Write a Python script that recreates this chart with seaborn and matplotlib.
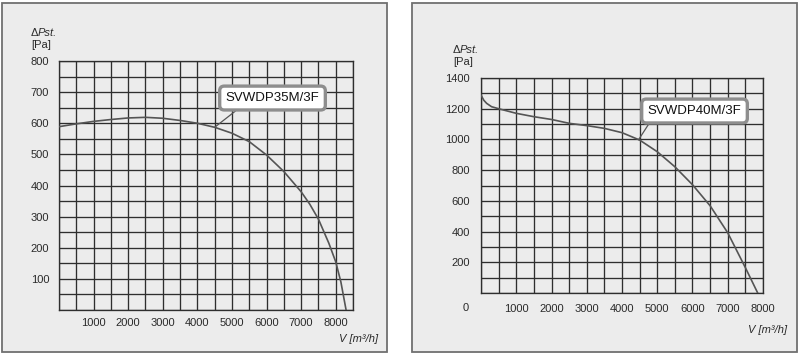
import matplotlib

matplotlib.use("Agg")
import matplotlib.pyplot as plt
import numpy as np
import pandas as pd
import seaborn as sns
from matplotlib.patches import Rectangle

# SVWDP35M/3F curve
flow_35 = [0, 500, 1000, 1500, 2000, 2500, 3000, 3500, 4000, 4500, 5000,
           5500, 6000, 6500, 7000, 7250, 7500, 7800, 8000, 8150, 8300]
press_35 = [589, 598, 606, 612, 617, 619, 616, 609, 600, 587, 568,
            541, 498, 445, 380, 340, 292, 215, 155, 90, 0]

# SVWDP40M/3F curve
flow_40 = [0, 80, 160, 300, 500, 1000, 1500, 2000, 2500, 3000, 3500, 4000,
           4500, 5000, 5500, 6000, 6500, 7000, 7500, 7850]
press_40 = [1289, 1255, 1235, 1213, 1200, 1170, 1148, 1130, 1105, 1090, 1072, 1044,
            996, 920, 822, 705, 568, 392, 165, 0]

names = ["SVWDP35M/3F", "SVWDP40M/3F"]
x_ticks_35 = [1000, 2000, 3000, 4000, 5000, 6000, 7000, 8000]
y_ticks_35 = [100, 200, 300, 400, 500, 600, 700, 800]
x_ticks_40 = [1000, 2000, 3000, 4000, 5000, 6000, 7000, 8000]
y_ticks_40 = [200, 400, 600, 800, 1000, 1200, 1400]

sns.set_theme(style="white")
plt.rcParams["font.family"] = ["Liberation Sans", "DejaVu Sans"]

BG = "#ececec"
GRID = "#2e2e2e"
CURVE = "#555555"
TXT = "#2a2a2a"

fig = plt.figure(figsize=(8, 3.54), dpi=100, facecolor="white")

# panel frames
for x0, x1 in [(2, 387), (412, 797)]:
    fig.patches.append(Rectangle((x0 / 800, 2 / 354), (x1 - x0) / 800, 349 / 354,
                                 transform=fig.transFigure, facecolor=BG,
                                 edgecolor="#707070", linewidth=1.3, zorder=-1))

ax1 = fig.add_axes([59 / 800, 44 / 354, 294 / 800, 249 / 354])
ax2 = fig.add_axes([481 / 800, 61 / 354, 282 / 800, 215 / 354])


def style_axis(ax, xmax, ymax, xstep, ystep, xt, yt, ticklen):
    ax.set_facecolor(BG)
    ax.set_xlim(0, xmax)
    ax.set_ylim(0, ymax)
    ax.set_xticks(xt)
    ax.set_yticks(yt)
    ax.set_xticks(np.arange(0, xmax + 1, xstep), minor=True)
    ax.set_yticks(np.arange(0, ymax + 1, ystep), minor=True)
    ax.grid(True, which="both", color=GRID, linewidth=0.95)
    ax.set_axisbelow(True)
    ax.tick_params(axis="both", which="major", labelsize=8, labelcolor=TXT,
                   length=ticklen, width=0.95, color=GRID, pad=4)
    ax.tick_params(axis="both", which="minor", length=0)
    ax.tick_params(axis="x", which="minor", length=ticklen, width=0.95, color=GRID)
    for sp in ax.spines.values():
        sp.set_color(GRID)
        sp.set_linewidth(0.95)
    ax.set_xlabel("")
    ax.set_ylabel("")


df35 = pd.DataFrame({"flow": flow_35, "press": press_35})
df40 = pd.DataFrame({"flow": flow_40, "press": press_40})

sns.lineplot(data=df35, x="flow", y="press", ax=ax1, color=CURVE, linewidth=1.2,
             sort=False, zorder=3)
sns.lineplot(data=df40, x="flow", y="press", ax=ax2, color=CURVE, linewidth=1.2,
             sort=False, zorder=3)

style_axis(ax1, 8500, 800, 500, 50, x_ticks_35, y_ticks_35, 0)
ax1.tick_params(axis="y", pad=7)
ax1.tick_params(axis="x", pad=6)
style_axis(ax2, 8000, 1400, 500, 100, x_ticks_40, y_ticks_40, 4)
ax2.tick_params(axis="x", pad=4)

box = dict(boxstyle="round,pad=0.45,rounding_size=0.35", fc="white",
           ec="#8e8e8e", lw=2.4)
ax1.annotate(names[0], xy=(4500, 587), xytext=(6173, 681), textcoords="data",
             fontsize=9.5, color="#111111", ha="center", va="center", bbox=box,
             arrowprops=dict(arrowstyle="-", color=CURVE, lw=0.9,
                             relpos=(0.2, 0.0), shrinkA=0, shrinkB=0),
             zorder=5)
ax2.annotate(names[1], xy=(4470, 998), xytext=(6057, 1185), textcoords="data",
             fontsize=9.5, color="#111111", ha="center", va="center", bbox=box,
             arrowprops=dict(arrowstyle="-", color=CURVE, lw=0.9,
                             relpos=(0.06, 0.0), shrinkA=0, shrinkB=0),
             zorder=5)


def px(x, y):
    return x / 800, 1 - y / 354


def delta_label(x, y):
    fig.text(*px(x, y), "Δ", fontsize=8, color=TXT, va="center", ha="left")
    fig.text(*px(x + 7, y), "Pst.", fontsize=8, color=TXT, va="center",
             ha="left", fontstyle="italic")
    fig.text(*px(x, y + 12), "[Pa]", fontsize=8, color=TXT, va="center", ha="left")


delta_label(31, 33)
delta_label(453, 50)

fig.text(*px(378, 339), "V [m³/h]", fontsize=8, color=TXT, va="center",
         ha="right", fontstyle="italic")
fig.text(*px(787, 330), "V [m³/h]", fontsize=8, color=TXT, va="center",
         ha="right", fontstyle="italic")
fig.text(*px(466, 308), "0", fontsize=8, color=TXT, va="center", ha="center")

fig.savefig("out.png", dpi=100, facecolor="white")
